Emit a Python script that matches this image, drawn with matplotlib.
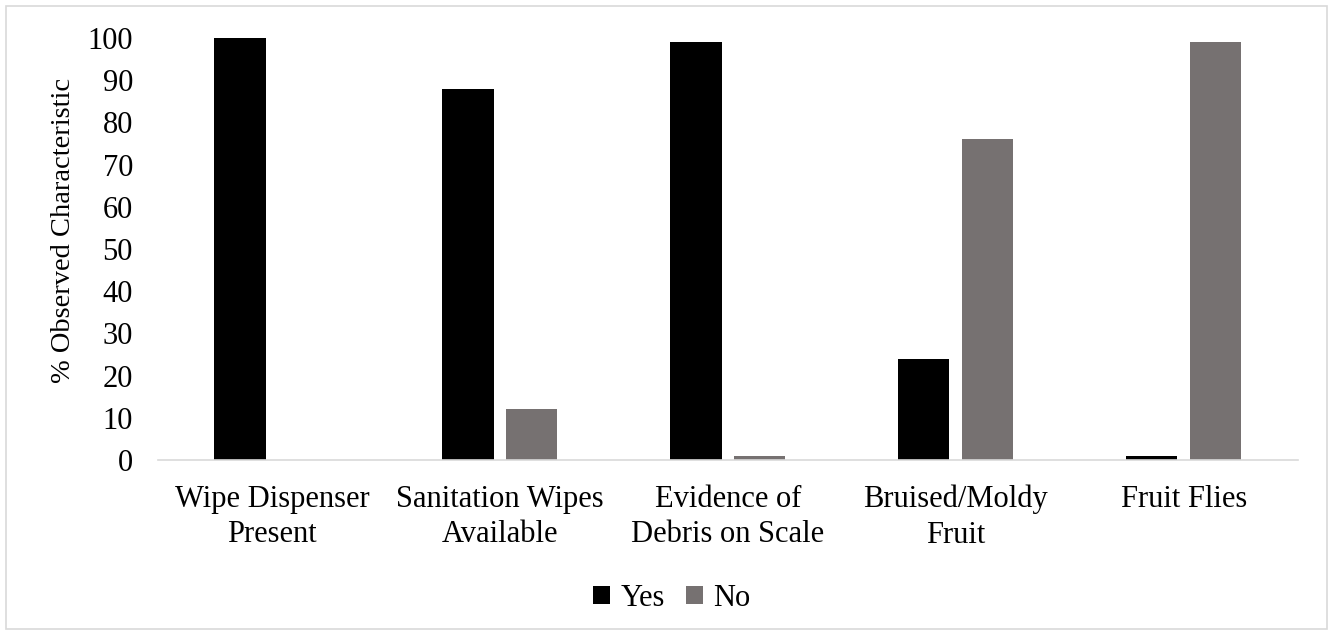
import numpy as np
import matplotlib.pyplot as plt
from matplotlib.patches import Rectangle

plt.rcParams['font.family'] = ['Liberation Serif', 'DejaVu Serif']

categories = ['Wipe Dispenser\nPresent', 'Sanitation Wipes\nAvailable',
              'Evidence of\nDebris on Scale', 'Bruised/Moldy\nFruit', 'Fruit Flies']
yes = [100, 88, 99, 24, 1]
no = [0, 12, 1, 76, 99]

fig = plt.figure(figsize=(13.33, 6.35), dpi=100)
ax = fig.add_axes([0.1185, 0.2756, 0.855, 0.6644])

index = np.arange(len(categories))
bar_width = 0.225
offset = 0.14

ax.bar(index - offset, yes, bar_width, color='#000000', label='Yes')
ax.bar(index + offset, no, bar_width, color='#767171', label='No')

ax.set_xlim(-0.5, len(categories) - 0.5)
ax.set_ylim(0, 100)
ax.set_yticks(np.arange(0, 101, 10))
ax.set_xticks(index)
ax.set_xticklabels(categories, fontsize=22, linespacing=1.28)
ax.tick_params(axis='y', labelsize=22, length=0, pad=18)
ax.tick_params(axis='x', length=0, pad=18)

for side in ['top', 'right', 'left']:
    ax.spines[side].set_visible(False)
ax.spines['bottom'].set_color('#d9d9d9')
ax.spines['bottom'].set_linewidth(1.2)

ax.set_ylabel('% Observed Characteristic', fontsize=20.5)
ax.yaxis.set_label_coords(-0.0715, 0.545)

ax.legend(loc='center', bbox_to_anchor=(0.504, 0.058), bbox_transform=fig.transFigure,
          ncol=2, frameon=False, fontsize=22, handlelength=0.55, handleheight=0.55,
          handletextpad=0.35, columnspacing=0.7, borderpad=0)

# light frame around the whole chart
fig.patches.append(Rectangle((6 / 1333, 6 / 635), 1321 / 1333, 623 / 635,
                             transform=fig.transFigure, fill=False,
                             edgecolor='#d9d9d9', linewidth=1.2))

fig.savefig('out.png', dpi=100)
